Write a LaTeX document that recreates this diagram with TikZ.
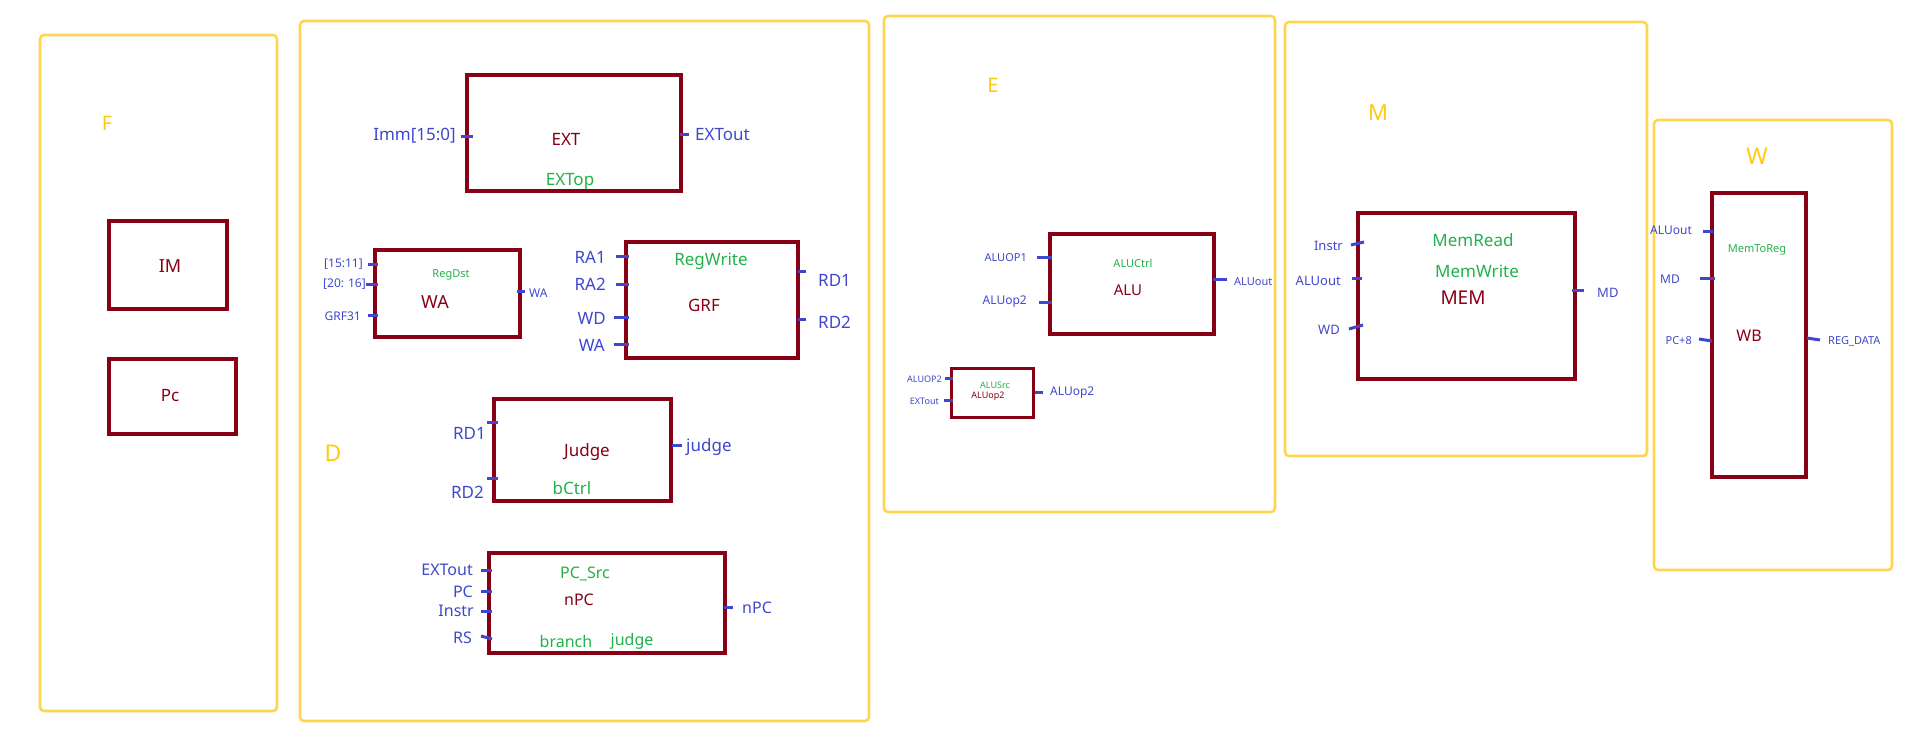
\documentclass[tikz,border=0pt]{standalone}
\usepackage{fontspec}
\setmainfont{Noto Sans}
\definecolor{boxred}{HTML}{880015}
\definecolor{sigblue}{HTML}{3F48CC}
\definecolor{ctlgreen}{HTML}{22B14C}
\definecolor{stageyel}{HTML}{FFD54F}
\definecolor{stagetxt}{HTML}{FFC90E}
\newcommand{\fpx}[1]{\fontsize{#1pt}{#1pt}\selectfont}
\tikzset{
  blk/.style={draw=boxred, line width=4.5pt, inner sep=0pt, fill=none},
  stage/.style={draw=stageyel, line width=2.6pt, rounded corners=4pt},
  stub/.style={draw=sigblue, line width=3pt},
  sig/.style={text=sigblue, inner sep=0pt},
  ctl/.style={text=ctlgreen, inner sep=0pt},
  unitname/.style={text=boxred, inner sep=0pt},
  stagename/.style={text=stagetxt, inner sep=0pt},
}
\begin{document}
\begin{tikzpicture}[x=1pt,y=-1pt]
\useasboundingbox (0,0) rectangle (1906,753);

% ---------- pipeline stage frames ----------
\draw[stage] (40,35) rectangle (277,711);
\draw[stage] (300,21) rectangle (869,721);
\draw[stage] (884,16) rectangle (1275,512);
\draw[stage] (1285,22) rectangle (1647,456);
\draw[stage] (1654,120) rectangle (1892,570);

\node[stagename, font=\fpx{20}] (lF) at (107,123) {F};
\node[stagename, font=\fpx{23}] (lD) at (333,453) {D};
\node[stagename, font=\fpx{20}] (lE) at (993,85) {E};
\node[stagename, font=\fpx{22}] (lM) at (1378,113) {M};
\node[stagename, font=\fpx{23}] (lW) at (1757,156) {W};

% ---------- F stage ----------
\node[blk, minimum width=118pt, minimum height=88pt] (im) at (168,265) {};
\node[unitname, font=\fpx{18}] (imt) at (170,266) {IM};
\node[blk, minimum width=127pt, minimum height=75pt] (pc) at (172.5,396.5) {};
\node[unitname, font=\fpx{17}] (pct) at (170,396) {Pc};

% ---------- D stage: EXT ----------
\node[blk, minimum width=214pt, minimum height=116pt] (ext) at (574,133) {};
\node[unitname, font=\fpx{17}] at (566,139) {EXT};
\node[ctl, font=\fpx{17}] at (570,181) {EXTop};
\draw[stub] (461,136) -- (473,136);
\draw[stub] (680,134) -- (689,134);
\node[sig, font=\fpx{17}, anchor=east] at (456,136) {Imm[15:0]};
\node[sig, font=\fpx{17}, anchor=west] at (695,135) {EXTout};

% ---------- D stage: WA select ----------
\node[blk, minimum width=145pt, minimum height=87pt] (wa) at (447.5,293.5) {};
\node[ctl, font=\fpx{11}] at (451,275) {RegDst};
\node[unitname, font=\fpx{18}] at (435,302) {WA};
\draw[stub] (368,264) -- (378,264);
\draw[stub] (366,284) -- (378,284);
\draw[stub] (368,315) -- (378,315);
\draw[stub] (517,291) -- (525,291);
\node[sig, font=\fpx{12}, anchor=east] at (363,264) {[15:11]};
\node[sig, font=\fpx{12}, anchor=east] at (366,284) {[20:\,\,16]};
\node[sig, font=\fpx{12}, anchor=east] at (361,316) {GRF31};
\node[sig, font=\fpx{12}, anchor=west] at (529,293) {WA};

% ---------- D stage: GRF ----------
\node[blk, minimum width=172pt, minimum height=116pt] (grf) at (712,300) {};
\node[ctl, font=\fpx{17}] at (711,261) {RegWrite};
\node[unitname, font=\fpx{17}] at (704,305) {GRF};
\draw[stub] (616,256) -- (629,256);
\draw[stub] (616,284) -- (629,284);
\draw[stub] (614,317) -- (629,317);
\draw[stub] (614,344) -- (629,344);
\draw[stub] (798,271) -- (806,271);
\draw[stub] (798,319) -- (806,319);
\node[sig, font=\fpx{17}, anchor=east] at (606,257) {RA1};
\node[sig, font=\fpx{17}, anchor=east] at (606,284) {RA2};
\node[sig, font=\fpx{17}, anchor=east] at (606,318) {WD};
\node[sig, font=\fpx{17}, anchor=east] at (605,345) {WA};
\node[sig, font=\fpx{17}, anchor=west] at (818,280) {RD1};
\node[sig, font=\fpx{17}, anchor=west] at (818,322) {RD2};

% ---------- D stage: Judge ----------
\node[blk, minimum width=177pt, minimum height=102pt] (judge) at (582.5,450) {};
\node[unitname, font=\fpx{17}] at (587,452) {Judge};
\node[ctl, font=\fpx{17}] at (572,488) {bCtrl};
\draw[stub] (487,422) -- (498,422);
\draw[stub] (487,478) -- (498,478);
\draw[stub] (672,445) -- (682,445);
\node[sig, font=\fpx{17}, anchor=east] at (486,433) {RD1};
\node[sig, font=\fpx{17}, anchor=east] at (484,492) {RD2};
\node[sig, font=\fpx{17}, anchor=west] at (686,447) {judge};

% ---------- D stage: nPC ----------
\node[blk, minimum width=236pt, minimum height=100pt] (npc) at (607,603) {};
\node[ctl, font=\fpx{16}] at (585,574) {PC\_Src};
\node[unitname, font=\fpx{16}] at (579,600) {nPC};
\node[ctl, font=\fpx{16}] at (566,641) {branch};
\node[ctl, font=\fpx{16}] at (632,641) {judge};
\draw[stub] (481,570) -- (492,570);
\draw[stub] (481,591) -- (492,591);
\draw[stub] (481,611) -- (492,611);
\draw[stub] (481,636) -- (492,639);
\draw[stub] (724,607) -- (733,607);
\node[sig, font=\fpx{16}, anchor=east] at (473,570) {EXTout};
\node[sig, font=\fpx{16}, anchor=east] at (473,592) {PC};
\node[sig, font=\fpx{16}, anchor=east] at (474,611) {Instr};
\node[sig, font=\fpx{16}, anchor=east] at (472,638) {RS};
\node[sig, font=\fpx{16}, anchor=west] at (742,608) {nPC};

% ---------- E stage: ALU ----------
\node[blk, minimum width=164pt, minimum height=100pt] (alu) at (1132,284) {};
\node[ctl, font=\fpx{11}] at (1133,263) {ALUCtrl};
\node[unitname, font=\fpx{15}] at (1128,290) {ALU};
\draw[stub] (1037,257) -- (1052,257);
\draw[stub] (1039,302) -- (1052,302);
\draw[stub] (1213,279) -- (1227,279);
\node[sig, font=\fpx{11}, anchor=east] at (1027,258) {ALUOP1};
\node[sig, font=\fpx{12}, anchor=east] at (1027,302) {ALUop2};
\node[sig, font=\fpx{11}, anchor=west] at (1234,282) {ALUout};

% ---------- E stage: ALU source select ----------
\node[blk, minimum width=82pt, minimum height=49pt, line width=3.5pt] (alusrc) at (992.5,393) {};
\node[ctl, font=\fpx{9}] at (995,385) {ALUSrc};
\node[unitname, font=\fpx{9}] at (988,396) {ALUop2};
\draw[stub] (945,378) -- (953,378);
\draw[stub] (944,400) -- (953,400);
\draw[stub] (1035,392) -- (1043,392);
\node[sig, font=\fpx{9}, anchor=east] at (942,379) {ALUOP2};
\node[sig, font=\fpx{9}, anchor=east] at (939,401) {EXTout};
\node[sig, font=\fpx{12}, anchor=west] at (1050,393) {ALUop2};

% ---------- M stage: MEM ----------
\node[blk, minimum width=217pt, minimum height=166pt] (mem) at (1466.5,296) {};
\node[ctl, font=\fpx{17}] at (1473,240) {MemRead};
\node[ctl, font=\fpx{17}] at (1477,271) {MemWrite};
\node[unitname, font=\fpx{19}] at (1463,298) {MEM};
\draw[stub] (1351,245) -- (1364,242);
\draw[stub] (1352,278) -- (1362,278);
\draw[stub] (1349,329) -- (1363,325);
\draw[stub] (1572,290) -- (1584,290);
\node[sig, font=\fpx{13}, anchor=east] at (1343,246) {Instr};
\node[sig, font=\fpx{13}, anchor=east] at (1341,281) {ALUout};
\node[sig, font=\fpx{13}, anchor=east] at (1340,330) {WD};
\node[sig, font=\fpx{13}, anchor=west] at (1597,293) {MD};

% ---------- W stage: WB ----------
\node[blk, minimum width=94pt, minimum height=284pt, line width=4pt] (wb) at (1759,335) {};
\node[ctl, font=\fpx{11}] at (1757,250) {MemToReg};
\node[unitname, font=\fpx{16}] at (1749,336) {WB};
\draw[stub] (1703,231) -- (1713,231);
\draw[stub] (1700,278) -- (1715,278);
\draw[stub] (1699,339) -- (1712,341);
\draw[stub] (1807,338) -- (1820,340);
\node[sig, font=\fpx{12}, anchor=east] at (1692,230) {ALUout};
\node[sig, font=\fpx{12}] at (1670,279) {MD};
\node[sig, font=\fpx{11}, anchor=east] at (1692,341) {PC+8};
\node[sig, font=\fpx{11}, anchor=west] at (1828,341) {REG\_DATA};
\end{tikzpicture}
\end{document}
